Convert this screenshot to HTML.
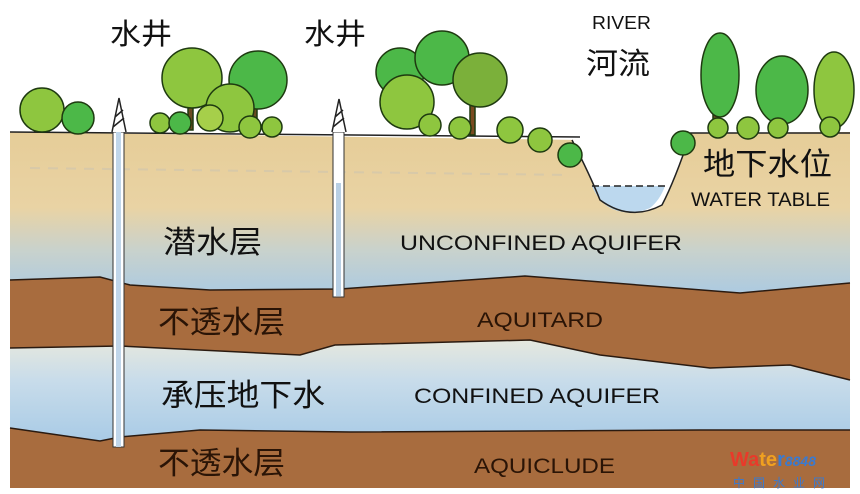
<!DOCTYPE html>
<html><head><meta charset="utf-8"><style>
html,body{margin:0;padding:0;background:#fff;}
svg{display:block}
text{font-family:"Liberation Sans","Noto Sans CJK SC",sans-serif;}
</style></head><body>
<svg width="860" height="494" viewBox="0 0 860 494" xmlns="http://www.w3.org/2000/svg">
<defs>
<linearGradient id="sand" x1="0" y1="0" x2="0" y2="1">
<stop offset="0" stop-color="#e6cd98"/>
<stop offset="0.45" stop-color="#e9d3a4"/>
<stop offset="0.7" stop-color="#c9d2cc"/>
<stop offset="1" stop-color="#a8c9e4"/>
</linearGradient>
<linearGradient id="conf" x1="0" y1="0" x2="0" y2="1">
<stop offset="0" stop-color="#e6e8de"/>
<stop offset="0.4" stop-color="#c8dcea"/>
<stop offset="1" stop-color="#a9cbe6"/>
</linearGradient>
</defs>
<rect width="860" height="494" fill="#fff"/>
<path d="M10,132 L580,140 Q583,150 590,160 L678,148 L690,133 L850,132 L850,300 L10,300 Z" fill="url(#sand)"/>
<path d="M572,140 Q590,175 600,200 Q630,222 662,205 Q675,180 690,135 Z" fill="#fff"/>
<path d="M592,186 Q600,205 615,210 Q632,216 650,208 Q660,200 665,186 Z" fill="#bcd8ee"/>
<path d="M572,140 Q590,175 600,200 Q630,222 662,205 Q675,180 690,135" fill="none" stroke="#222" stroke-width="1.5"/>
<line x1="592" y1="186" x2="666" y2="186" stroke="#222" stroke-width="1.5" stroke-dasharray="7,4"/>
<line x1="10" y1="132" x2="580" y2="137" stroke="#222" stroke-width="1.5"/>
<line x1="690" y1="133" x2="850" y2="133" stroke="#222" stroke-width="1.5"/>
<line x1="30" y1="168" x2="570" y2="175" stroke="#d8c9a8" stroke-width="2" stroke-dasharray="10,8"/>
<path d="M10,280 L100,277 L130,285 L210,290 L340,289 L525,276 L740,293 L850,283 L850,380 L790,365 L710,368 L600,355 L530,340 L335,345 L300,355 L120,346 L10,348 Z" fill="#a86c3e"/>
<path d="M10,348 L120,346 L300,355 L335,345 L530,340 L600,355 L710,368 L790,365 L850,380 L850,430 L700,430 L350,432 L200,430 L120,437 L100,441 L10,428 Z" fill="url(#conf)"/>
<path d="M10,428 L100,441 L120,437 L200,430 L350,432 L700,430 L850,430 L850,488 L10,488 Z" fill="#a86c3e"/>
<g fill="none" stroke="#2a1a10" stroke-width="1.5">
<path d="M10,280 L100,277 L130,285 L210,290 L340,289 L525,276 L740,293 L850,283"/>
<path d="M10,348 L120,346 L300,355 L335,345 L530,340 L600,355 L710,368 L790,365 L850,380"/>
<path d="M10,428 L100,441 L120,437 L200,430 L350,432 L700,430 L850,430"/>
</g>
<rect x="113" y="132" width="11" height="315" fill="#fff" stroke="#333" stroke-width="1"/>
<rect x="116" y="132" width="5" height="315" fill="#c0d6ea"/>
<rect x="333" y="132" width="11" height="165" fill="#fff" stroke="#333" stroke-width="1"/>
<rect x="336" y="183" width="5" height="113" fill="#b8cfe4"/>
<path d="M112,132 L119,98 L126,132 M113,127 L124,118 M115,117 L123,110" fill="#fff" stroke="#222" stroke-width="1.5"/>
<path d="M332,132 L339,99 L346,132 M333,127 L344,118 M335,117 L343,110" fill="#fff" stroke="#222" stroke-width="1.5"/>
<g stroke="#1e3a10" stroke-width="1.5">
<rect x="188" y="100" width="5" height="30" fill="#6b4a20"/>
<rect x="252" y="95" width="5" height="35" fill="#6b4a20"/>
<rect x="470" y="90" width="5" height="45" fill="#7a4a20"/>
<rect x="713" y="105" width="5" height="25" fill="#6b4a20"/>
<rect x="778" y="105" width="5" height="25" fill="#6b4a20"/>
<circle cx="42" cy="110" r="22" fill="#8ec63f"/>
<circle cx="78" cy="118" r="16" fill="#4cb848"/>
<circle cx="192" cy="78" r="30" fill="#8ec63f"/>
<circle cx="258" cy="80" r="29" fill="#4cb848"/>
<circle cx="230" cy="108" r="24" fill="#8ec63f"/>
<circle cx="210" cy="118" r="13" fill="#a6cf4a"/>
<circle cx="160" cy="123" r="10" fill="#8ec63f"/>
<circle cx="180" cy="123" r="11" fill="#4cb848"/>
<circle cx="250" cy="127" r="11" fill="#8ec63f"/>
<circle cx="272" cy="127" r="10" fill="#8ec63f"/>
<circle cx="400" cy="72" r="24" fill="#4cb848"/>
<circle cx="442" cy="58" r="27" fill="#4cb848"/>
<circle cx="407" cy="102" r="27" fill="#8ec63f"/>
<circle cx="480" cy="80" r="27" fill="#7bb03a"/>
<circle cx="430" cy="125" r="11" fill="#8ec63f"/>
<circle cx="460" cy="128" r="11" fill="#8ec63f"/>
<circle cx="510" cy="130" r="13" fill="#8ec63f"/>
<circle cx="540" cy="140" r="12" fill="#8ec63f"/>
<circle cx="570" cy="155" r="12" fill="#4cb848"/>
<circle cx="683" cy="143" r="12" fill="#4cb848"/>
<ellipse cx="720" cy="75" rx="19" ry="42" fill="#4cb848"/>
<ellipse cx="782" cy="90" rx="26" ry="34" fill="#4cb848"/>
<ellipse cx="834" cy="90" rx="20" ry="38" fill="#8ec63f"/>
<circle cx="718" cy="128" r="10" fill="#8ec63f"/>
<circle cx="748" cy="128" r="11" fill="#8ec63f"/>
<circle cx="778" cy="128" r="10" fill="#8ec63f"/>
<circle cx="830" cy="127" r="10" fill="#8ec63f"/>
</g>
<g fill="#111" lengthAdjust="spacingAndGlyphs">
<text x="110" y="44" font-size="29" textLength="62" lengthAdjust="spacingAndGlyphs">水井</text>
<text x="304" y="44" font-size="29" textLength="62" lengthAdjust="spacingAndGlyphs">水井</text>
<text x="592" y="29" font-size="18" textLength="59" lengthAdjust="spacingAndGlyphs">RIVER</text>
<text x="586" y="74" font-size="30" textLength="64" lengthAdjust="spacingAndGlyphs">河流</text>
<text x="703" y="175" font-size="31" textLength="129" lengthAdjust="spacingAndGlyphs">地下水位</text>
<text x="691" y="206" font-size="19" textLength="139" lengthAdjust="spacingAndGlyphs">WATER TABLE</text>
<text x="163" y="253" font-size="31" textLength="99" lengthAdjust="spacingAndGlyphs">潜水层</text>
<text x="400" y="250" font-size="21" textLength="282" lengthAdjust="spacingAndGlyphs">UNCONFINED AQUIFER</text>
<text x="158" y="333" font-size="31" fill="#2a1406" textLength="127" lengthAdjust="spacingAndGlyphs">不透水层</text>
<text x="477" y="327" font-size="21" fill="#2a1406" textLength="126" lengthAdjust="spacingAndGlyphs">AQUITARD</text>
<text x="161" y="406" font-size="31" textLength="164" lengthAdjust="spacingAndGlyphs">承压地下水</text>
<text x="414" y="403" font-size="21" textLength="246" lengthAdjust="spacingAndGlyphs">CONFINED AQUIFER</text>
<text x="158" y="474" font-size="31" fill="#2a1406" textLength="127" lengthAdjust="spacingAndGlyphs">不透水层</text>
<text x="474" y="473" font-size="21" fill="#2a1406" textLength="141" lengthAdjust="spacingAndGlyphs">AQUICLUDE</text>
</g>
<text x="730" y="466" font-size="20" font-weight="bold" fill="#e83a2a">Wa<tspan fill="#f0a020">te</tspan><tspan fill="#3a7ad0">r</tspan><tspan font-size="14" font-style="italic" fill="#3a7ad0">8848</tspan></text>
<text x="733" y="487" font-size="12" fill="#3a7ad0" letter-spacing="8">中国水业网</text>
</svg>
</body></html>
